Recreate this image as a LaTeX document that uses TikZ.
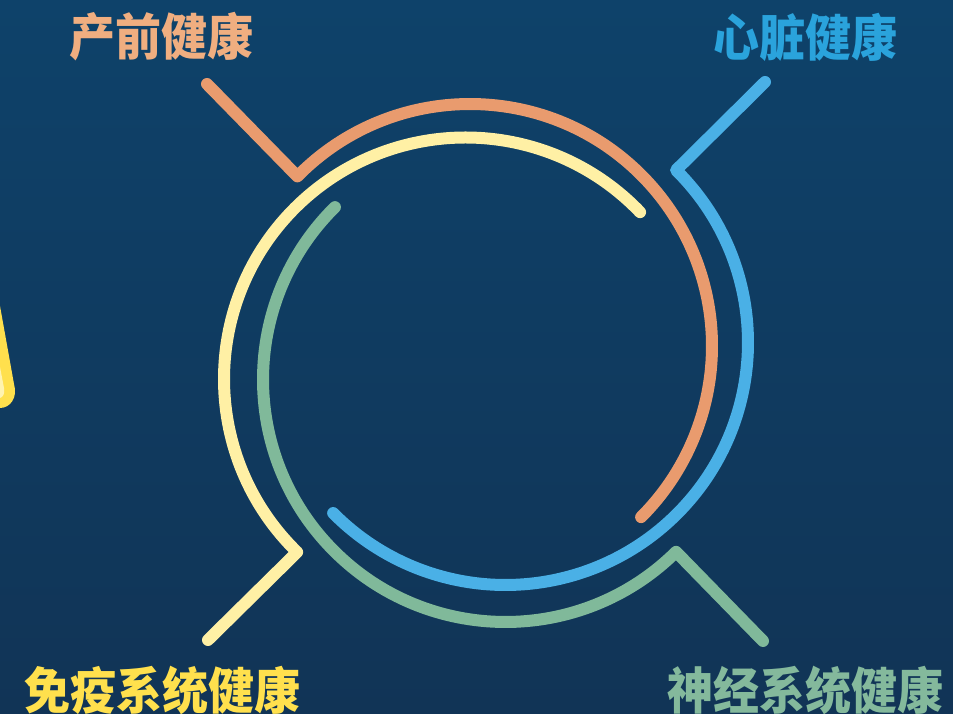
\documentclass[tikz,border=0pt]{standalone}
\usepackage{fontspec}
\usetikzlibrary{calc}
\newfontfamily\cjk{Noto Sans CJK SC}[BoldFont={Noto Sans CJK SC Black}]
\definecolor{bgtop}{RGB}{14,66,106}
\definecolor{bgbot}{RGB}{17,52,86}
\definecolor{corange}{RGB}{233,155,110}
\definecolor{cblue}{RGB}{74,176,230}
\definecolor{cyellow}{RGB}{255,240,165}
\definecolor{cgreen}{RGB}{128,185,154}
\definecolor{torange}{RGB}{240,174,128}
\definecolor{tblue}{RGB}{42,163,220}
\definecolor{tyellow}{RGB}{255,224,77}
\definecolor{tgreen}{RGB}{132,185,156}
\definecolor{ylight}{RGB}{255,243,176}
\tikzset{
  ring/.style={line width=12pt, line cap=round, line join=round},
  label/.style={inner sep=0pt, font=\cjk\bfseries\fontsize{50}{50}\selectfont, xscale=0.92}
}
\begin{document}
\begin{tikzpicture}[x=1pt,y=1pt]
\shade[top color=bgtop, bottom color=bgbot] (0,0) rectangle (953,714);
\useasboundingbox (0,0) rectangle (953,714);
% left partial yellow shape
\fill[tyellow] (0,408) -- (14,330) .. controls (18,316) and (10,306) .. (0,306) -- cycle;
\fill[ylight] (0,347) -- (4,326) .. controls (5,320) and (3,317) .. (0,316) -- cycle;
% coordinates
\coordinate (oc) at (470,368);
\coordinate (bc) at (505.5,371.5);
\coordinate (yc) at (465.5,335);
\coordinate (gc) at (505.5,334.5);
\coordinate (oend) at (207,630);
\coordinate (bend) at (765,632);
\coordinate (yend) at (208,74);
\coordinate (gend) at (763,73);
% orange
\draw[ring, corange] (oend) -- ($(oc)+(135.5:242)$) arc[start angle=135.5, end angle=-45, radius=242];
% blue
\draw[ring, cblue] (bend) -- ($(bc)+(45.3:242.5)$) arc[start angle=45.3, end angle=-135.3, radius=242.5];
% yellow
\draw[ring, cyellow] (yend) -- ($(yc)+(225.8:241.5)$) arc[start angle=225.8, end angle=43.7, radius=241.5];
% green
\draw[ring, cgreen] (gend) -- ($(gc)+(-45.3:242.5)$) arc[start angle=-45.3, end angle=-225.3, radius=242.5];
% labels
\node[label, text=torange] (t1) at (161,677) {产前健康};
\node[label, text=tblue] (t2) at (805,677) {心脏健康};
\node[label, text=tyellow] (t3) at (162,24) {免疫系统健康};
\node[label, text=tgreen] (t4) at (805,24) {神经系统健康};
\end{tikzpicture}
\end{document}
